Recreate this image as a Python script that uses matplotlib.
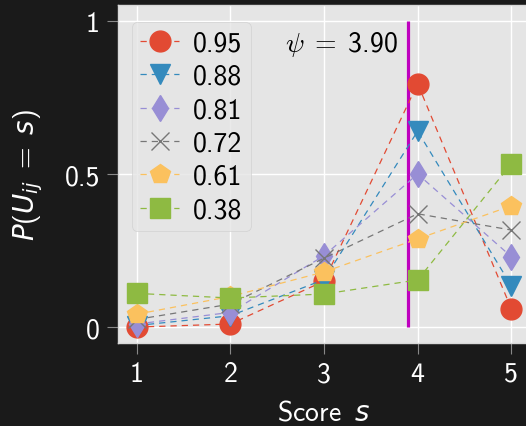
import matplotlib
matplotlib.use('Agg')
import matplotlib.pyplot as plt
import numpy as np

plt.style.use('ggplot')
plt.rcParams['font.family'] = ['cmss10', 'DejaVu Sans']
plt.rcParams['mathtext.fontset'] = 'custom'
plt.rcParams['mathtext.rm'] = 'cmss10'
plt.rcParams['mathtext.it'] = 'DejaVu Sans:italic'
plt.rcParams['axes.unicode_minus'] = False

# data
scores = [1, 2, 3, 4, 5]
labels = ['0.95', '0.88', '0.81', '0.72', '0.61', '0.38']
p_095 = [0.00, 0.01, 0.15, 0.795, 0.06]
p_088 = [0.005, 0.037, 0.155, 0.64, 0.135]
p_081 = [0.01, 0.048, 0.233, 0.50, 0.23]
p_072 = [0.025, 0.075, 0.225, 0.37, 0.317]
p_061 = [0.042, 0.10, 0.18, 0.288, 0.396]
p_038 = [0.11, 0.095, 0.108, 0.154, 0.533]
psi = 3.90

series = [p_095, p_088, p_081, p_072, p_061, p_038]
colors = ['#E24A33', '#348ABD', '#988ED5', '#777777', '#FBC15E', '#8EBA42']
markers = ['o', 'v', 'd', 'x', 'p', 's']

fig = plt.figure(figsize=(5.26, 4.27), dpi=100)
fig.patch.set_facecolor('#1a1a1a')
ax = fig.add_axes([118/526, 83/427, 412/526, 338/427])
ax.set_facecolor('#e5e5e5')

for vals, lab, c, m in zip(series, labels, colors, markers):
    ms = 15 if m not in ('x', 'd') else 13
    ax.plot(scores, vals, linestyle='--', linewidth=0.9, color=c, marker=m,
            markersize=ms, label=lab, dashes=(5, 4))

ax.vlines(psi, 0, 1, color='#bf00bf', linewidth=2.3, zorder=1)
ax.text(3.79, 0.925, r'$\psi\;=\;$' + '3.90', ha='right', va='center',
        fontsize=20, color='black', math_fontfamily='cm')

ax.set_xlim(0.8, 5.2)
ax.set_ylim(-0.052, 1.052)
ax.set_xticks(scores)
ax.set_xticklabels([str(s) for s in scores])
ax.set_yticks([0, 0.5, 1])
ax.set_yticklabels(['0', '0.5', '1'])
ax.tick_params(axis='both', colors='#888888', labelcolor='white',
               labelsize=20, length=8, direction='out', pad=5)
ax.grid(True, color='white', linewidth=1.0)
for sp in ax.spines.values():
    sp.set_visible(True)
    sp.set_color('#d8d8d8')
    sp.set_linewidth(1.0)

ax.set_xlabel(r'Score $\,s$', color='white', fontsize=20, labelpad=10)
ax.set_ylabel(r'$P(U_{ij}\;=\;s)$', color='white', fontsize=20, labelpad=14)

leg = ax.legend(loc='upper left', fontsize=20, handlelength=1.4,
                labelspacing=0.3, borderpad=0.3, handletextpad=0.5,
                frameon=True, bbox_to_anchor=(0.0, 0.99))
leg.get_frame().set_facecolor('#e5e5e5')
leg.get_frame().set_edgecolor('#cccccc')
for t in leg.get_texts():
    t.set_color('black')

fig.savefig('out.png', dpi=100, facecolor=fig.get_facecolor())
